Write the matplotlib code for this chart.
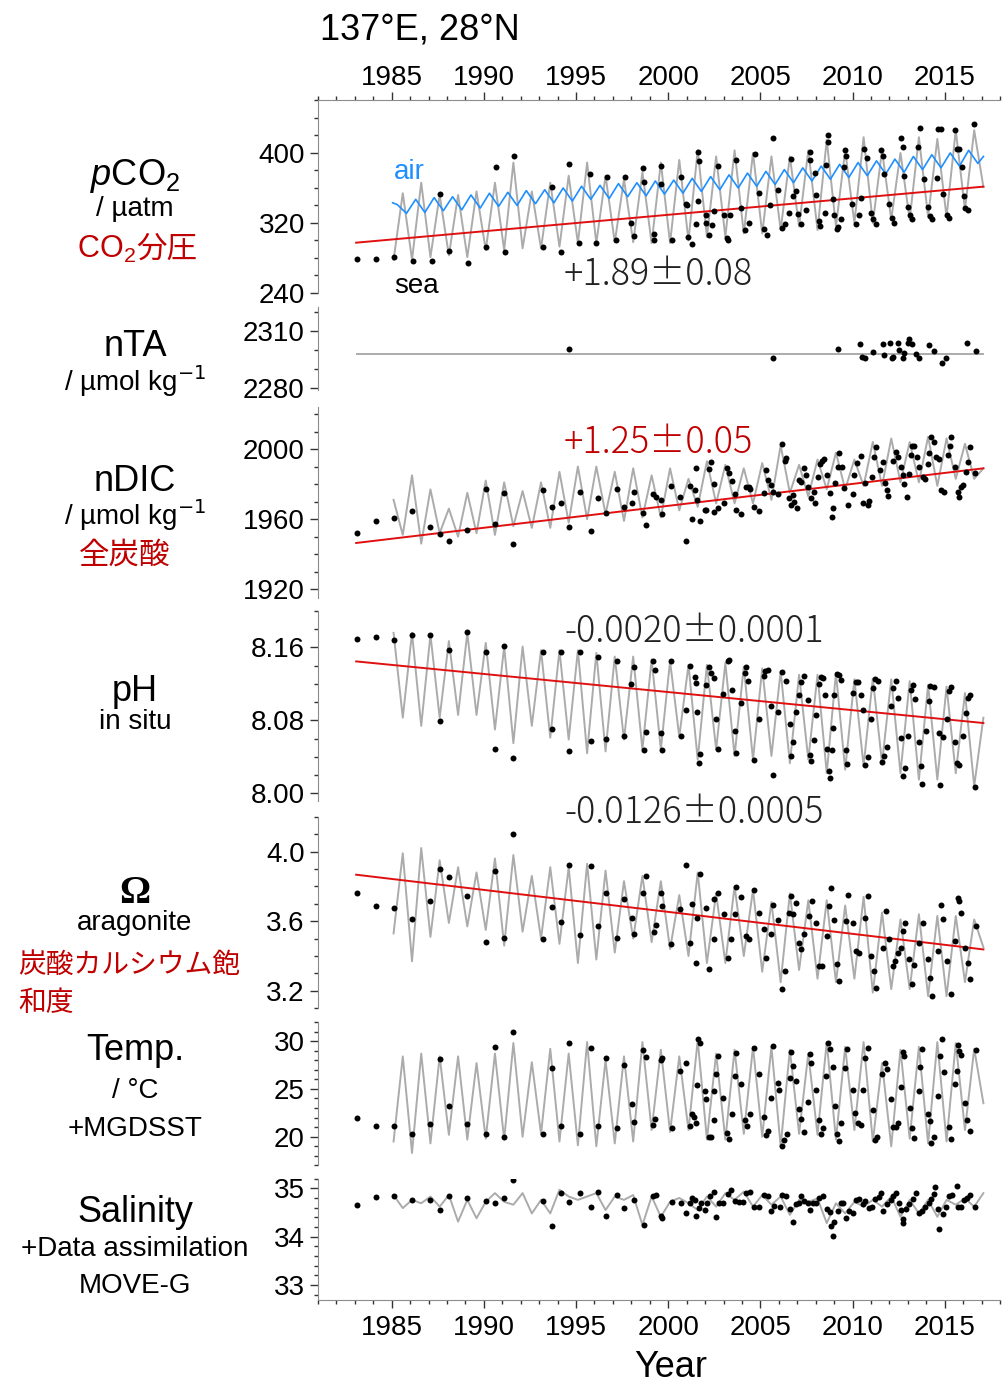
import numpy as np
import matplotlib.pyplot as plt
from matplotlib.ticker import MultipleLocator, FixedLocator, FormatStrFormatter

plt.rcParams['font.family'] = ['Liberation Sans', 'Noto Sans CJK JP']
plt.rcParams['mathtext.fontset'] = 'custom'
plt.rcParams['mathtext.rm'] = 'Liberation Sans'
plt.rcParams['mathtext.it'] = 'Liberation Sans:italic'

# ---------------- data ----------------
year_ticks = [1985, 1990, 1995, 2000, 2005, 2010, 2015]
gray_years = np.linspace(1985.1, 2017.1, 65)      # half-year steps of the monthly model line
trend_years = [1983.07, 2017.1]

# pCO2 (uatm)
pco2_ticks = [240, 320, 400]
pco2_sea = [278, 354, 278, 366, 281, 352, 283, 352, 281, 356, 289, 366, 289, 389, 291, 356,
            291, 366, 293, 374, 297, 389, 297, 374, 298, 370, 298, 378, 297, 389, 297, 392,
            300, 403, 304, 396, 304, 403, 308, 400, 308, 396, 312, 396, 316, 403, 312, 415,
            316, 403, 320, 418, 320, 403, 324, 400, 324, 418, 327, 416, 327, 426, 335, 426, 361]
air_years = np.concatenate([[1985.05], np.arange(1985.3, 2017.0, 0.5), [2017.1]])
pco2_air = [343, 341, 331, 347, 332, 349, 334, 350, 335, 352, 337, 354, 339, 355, 340, 357, 342,
            358, 343, 360, 345, 362, 347, 363, 348, 365, 350, 366, 351, 368, 353, 369, 354,
            371, 356, 373, 358, 375, 360, 377, 362, 379, 364, 381, 366, 383, 368, 385, 370,
            387, 372, 389, 374, 391, 376, 393, 378, 396, 381, 398, 383, 400, 385, 403, 388, 396]
pco2_trend = [297.5, 361.5]
pco2_dots = [(1983.13, 278.5), (1984.14, 278.5), (1985.14, 281.5), (1986.17, 277), (1987.16, 277),
             (1987.61, 353), (1988.12, 288), (1989.15, 274.6), (1990.14, 293), (1990.68, 383.6),
             (1991.14, 287), (1991.64, 396.6), (1993.18, 293), (1993.67, 360.8), (1994.17, 287),
             (1994.62, 387), (1995.16, 297.5), (1995.78, 375.6), (1996.1, 297.5), (1996.68, 372),
             (1997.18, 300.6), (1997.64, 372), (1998.0, 319.6), (1998.12, 305.5), (1998.63, 382.5),
             (1998.68, 366.5), (1999.21, 300.6), (1999.25, 307.4), (1999.63, 385), (1999.63, 364.6),
             (2000.22, 300.8), (2000.67, 373), (2000.95, 341.4), (2001.02, 341), (2001.1, 304),
             (2001.3, 296), (2001.5, 319), (2001.6, 345), (2001.64, 401.5), (2001.66, 390.8),
             (2002.03, 329), (2002.06, 319.6), (2002.2, 306), (2002.4, 318), (2002.5, 334),
             (2002.7, 385), (2003.0, 329), (2003.2, 302.5), (2003.22, 300), (2003.34, 329),
             (2003.69, 392), (2003.95, 337), (2004.17, 312), (2004.4, 320), (2004.69, 398.9),
             (2004.95, 354.6), (2005.17, 313), (2005.37, 306), (2005.5, 340), (2005.68, 416.8),
             (2005.97, 357.7), (2006.2, 314), (2006.36, 319), (2006.57, 331), (2006.66, 392.7),
             (2006.78, 351), (2006.92, 357), (2007.06, 330), (2007.19, 319), (2007.46, 335),
             (2007.67, 401.5), (2007.69, 392), (2007.96, 377.5), (2008.0, 352), (2008.16, 322),
             (2008.25, 316), (2008.52, 331), (2008.56, 386), (2008.65, 420.6), (2008.67, 413),
             (2008.95, 347), (2008.97, 329), (2009.13, 313), (2009.22, 315), (2009.4, 325),
             (2009.52, 384), (2009.61, 403.6), (2009.66, 396), (2009.97, 342), (2010.2, 319),
             (2010.35, 329), (2010.47, 349), (2010.6, 405), (2010.8, 394), (2011.0, 331),
             (2011.1, 325), (2011.25, 319), (2011.55, 403), (2011.64, 396), (2011.73, 376),
             (2012.0, 342), (2012.15, 326), (2012.27, 320), (2012.63, 416.8), (2012.72, 407),
             (2012.81, 374), (2013.0, 338), (2013.1, 329), (2013.2, 324), (2013.56, 407),
             (2013.65, 428), (2013.89, 370), (2014.07, 338), (2014.2, 328), (2014.3, 325),
             (2014.57, 371), (2014.65, 427), (2014.8, 427), (2014.92, 353), (2015.15, 329),
             (2015.25, 326), (2015.57, 426), (2015.66, 404), (2015.8, 404), (2015.94, 384),
             (2016.07, 351), (2016.12, 337), (2016.25, 335), (2016.61, 433)]

# nTA (umol/kg)
ta_ticks = [2280, 2310]
ta_line_years = [1983.1, 2017.1]
ta_line = [2298, 2298]
ta_dots = [(1994.62, 2300.2), (2005.68, 2295.5), (2009.2, 2300.4), (2010.43, 2303), (2010.52, 2296),
           (2010.68, 2295.5), (2011.1, 2298.6), (2011.64, 2303), (2011.73, 2297), (2012.03, 2303.7),
           (2012.12, 2295.6), (2012.2, 2296.2), (2012.45, 2303.5), (2012.5, 2300), (2012.76, 2295.5),
           (2012.81, 2298.4), (2012.99, 2303.5), (2013.08, 2305.5), (2013.21, 2303), (2013.44, 2297.6),
           (2013.62, 2295.5), (2014.17, 2302.4), (2014.44, 2299.3), (2014.85, 2293.2), (2015.07, 2295.5),
           (2016.21, 2303.7), (2016.7, 2299.5)]

# nDIC (umol/kg)
dic_ticks = [1920, 1960, 2000]
dic_gray = [1971, 1951, 1985, 1946, 1977, 1952, 1966, 1950, 1975, 1952, 1982, 1951, 1981, 1956,
            1976, 1955, 1981, 1955, 1987, 1958, 1990, 1960, 1990, 1963, 1987, 1959, 1989, 1961,
            1985, 1961, 1989, 1965, 1983, 1967, 1993, 1969, 1991, 1969, 1989, 1969, 1992, 1971,
            2002, 1975, 1991, 1973, 1994, 1977, 1998, 1977, 1994, 1979, 2004, 1979, 2006, 1981,
            2004, 1981, 2007, 1979, 2006, 1983, 2003, 1983, 1989]
dic_trend = [1946.4, 1989.0]
dic_dots = [(1983.13, 1952.2), (1984.14, 1959), (1985.1, 1960.4), (1986.1, 1964.7), (1987.1, 1955.6),
            (1987.6, 1951.4), (1988.1, 1947.6), (1989.1, 1954), (1990.1, 1977.1), (1990.6, 1957),
            (1991.1, 1975), (1991.6, 1945.7), (1993.2, 1976.6), (1993.7, 1967), (1994.2, 1969),
            (1994.6, 1955.3), (1995.2, 1975.6), (1995.8, 1953.3), (1996.2, 1971.8), (1996.6, 1963.6),
            (1997.2, 1977.1), (1997.6, 1967), (1998.03, 1969.5), (1998.14, 1975.6), (1998.63, 1963.6),
            (1998.81, 1956.6), (1999.17, 1974.3), (1999.35, 1972.4), (1999.62, 1971.2), (1999.64, 1962.9),
            (2000.16, 1979), (2000.65, 1972.4), (2000.98, 1947.4), (2001.16, 1978.9), (2001.3, 1959.8),
            (2001.46, 1976.6), (2001.52, 1989), (2001.57, 1970.9), (2001.7, 1959), (2001.97, 1965.1),
            (2002.06, 1965.5), (2002.2, 1988.4), (2002.3, 1992.8), (2002.48, 1980), (2002.51, 1964.2),
            (2002.69, 1966.1), (2003.0, 1969), (2003.2, 1989), (2003.29, 1986.1), (2003.45, 1981.9),
            (2003.6, 1974.3), (2003.69, 1965.1), (2003.96, 1962.9), (2004.23, 1978.1), (2004.36, 1978.5),
            (2004.45, 1977), (2004.68, 1966.7), (2004.95, 1964.8), (2005.19, 1974.7), (2005.28, 1988),
            (2005.4, 1982.3), (2005.58, 1979.4), (2005.67, 1975.6), (2005.95, 1974.3), (2006.18, 2002.7),
            (2006.31, 1993.3), (2006.4, 1994.7), (2006.54, 1971.8), (2006.67, 1968), (2006.76, 1973.7),
            (2006.85, 1969.9), (2006.98, 1966.1), (2007.12, 1982.3), (2007.21, 1981.3), (2007.34, 1989),
            (2007.45, 1985.1), (2007.57, 1978.5), (2007.75, 1971.8), (2007.93, 1975.6), (2007.99, 1969.5),
            (2008.15, 1984.2), (2008.24, 1991.4), (2008.35, 1993.3), (2008.47, 1994.1), (2008.62, 1985.1),
            (2008.75, 1974.7), (2008.87, 1961.3), (2008.96, 1966.1), (2009.07, 1980.4), (2009.2, 1989.9),
            (2009.29, 1997.5), (2009.41, 1989.9), (2009.56, 1977.5), (2009.74, 1968), (2010.01, 1974.3),
            (2010.1, 1985.1), (2010.23, 1991.8), (2010.46, 1996), (2010.55, 1969), (2010.68, 1980.4),
            (2010.82, 1968), (2010.91, 1970.5), (2011.06, 1983.8), (2011.19, 1995.6), (2011.28, 2001.3),
            (2011.51, 1988), (2011.64, 1992.8), (2011.76, 1980.4), (2011.85, 1976.6), (2011.94, 1973.1),
            (2012.18, 1993.3), (2012.36, 1998.5), (2012.45, 1995.6), (2012.63, 1989.9), (2012.72, 1985.1),
            (2012.81, 1980), (2012.96, 1972.4), (2013.08, 1985.7), (2013.17, 1996.6), (2013.21, 2001.7),
            (2013.35, 2001.7), (2013.48, 1995.6), (2013.62, 1989.9), (2013.8, 1984.2), (2013.95, 1982.7),
            (2014.08, 1991.4), (2014.17, 1997.9), (2014.26, 2007), (2014.4, 2004.2), (2014.53, 1995.2),
            (2014.67, 1994.1), (2014.8, 1976.6), (2014.98, 1975.6), (2015.2, 1996.6), (2015.29, 2001.7),
            (2015.34, 2006.7), (2015.57, 1989.9), (2015.7, 1975.6), (2015.79, 1972.4), (2015.88, 1978.1),
            (2016.01, 1979.4), (2016.15, 1987), (2016.24, 1992.8), (2016.37, 2001), (2016.66, 1986.5)]

# pH in situ
ph_ticks = [8.00, 8.08, 8.16]
ph_gray = [8.176, 8.083, 8.176, 8.074, 8.174, 8.083, 8.167, 8.086, 8.176, 8.086, 8.165, 8.070,
           8.161, 8.055, 8.161, 8.074, 8.157, 8.061, 8.157, 8.059, 8.157, 8.044, 8.154, 8.046,
           8.150, 8.059, 8.150, 8.048, 8.147, 8.048, 8.145, 8.062, 8.141, 8.037, 8.141, 8.048,
           8.143, 8.041, 8.139, 8.037, 8.137, 8.041, 8.134, 8.033, 8.130, 8.037, 8.130, 8.022,
           8.132, 8.026, 8.125, 8.030, 8.126, 8.033, 8.125, 8.022, 8.123, 8.015, 8.119, 8.015,
           8.117, 8.022, 8.110, 8.008, 8.083]
ph_trend = [8.1447, 8.0771]
ph_dots = [(1983.13, 8.1695), (1984.14, 8.171), (1985.1, 8.168), (1986.1, 8.174), (1987.1, 8.174),
           (1987.6, 8.079), (1988.1, 8.1575), (1989.1, 8.177), (1990.1, 8.1545), (1990.6, 8.049),
           (1991.1, 8.162), (1991.6, 8.0387), (1993.2, 8.1545), (1993.7, 8.0705), (1994.2, 8.1545),
           (1994.6, 8.0468), (1995.2, 8.1545), (1995.8, 8.057), (1996.2, 8.149), (1996.6, 8.0596),
           (1997.2, 8.1454), (1997.6, 8.0625), (1998.0, 8.120), (1998.14, 8.1385), (1998.68, 8.048),
           (1998.81, 8.067), (1999.17, 8.1447), (1999.31, 8.1356), (1999.59, 8.066), (1999.68, 8.047),
           (2000.16, 8.1447), (2000.67, 8.0625), (2000.98, 8.091), (2001.16, 8.140), (2001.43, 8.1275),
           (2001.52, 8.121), (2001.57, 8.0888), (2001.7, 8.0432), (2001.66, 8.033), (2002.03, 8.119),
           (2002.19, 8.139), (2002.3, 8.132), (2002.46, 8.126), (2002.6, 8.0815), (2002.69, 8.049),
           (2002.96, 8.109), (2003.24, 8.1447), (2003.3, 8.146), (2003.45, 8.1136), (2003.6, 8.068),
           (2003.69, 8.044), (2003.96, 8.099), (2004.17, 8.132), (2004.23, 8.139), (2004.32, 8.123),
           (2004.68, 8.036), (2004.92, 8.081), (2005.17, 8.129), (2005.26, 8.134), (2005.4, 8.1356),
           (2005.58, 8.0954), (2005.67, 8.0197), (2005.95, 8.0888), (2006.18, 8.1326), (2006.4, 8.123),
           (2006.58, 8.076), (2006.67, 8.0405), (2006.76, 8.056), (2006.94, 8.0888), (2007.12, 8.108),
           (2007.21, 8.1217), (2007.34, 8.129), (2007.57, 8.1027), (2007.7, 8.0425), (2007.75, 8.035),
           (2007.93, 8.058), (2008.02, 8.086), (2008.2, 8.12), (2008.3, 8.128), (2008.38, 8.127),
           (2008.51, 8.108), (2008.62, 8.049), (2008.71, 8.0242), (2008.75, 8.017), (2008.87, 8.048),
           (2008.96, 8.0717), (2009.02, 8.108), (2009.14, 8.131), (2009.25, 8.130), (2009.38, 8.1246),
           (2009.65, 8.048), (2009.69, 8.032), (2010.01, 8.110), (2010.19, 8.1217), (2010.28, 8.1217),
           (2010.46, 8.108), (2010.59, 8.0917), (2010.7, 8.0315), (2010.82, 8.04), (2011.0, 8.0815),
           (2011.13, 8.1155), (2011.24, 8.1253), (2011.37, 8.123), (2011.6, 8.034), (2011.73, 8.0405),
           (2011.85, 8.051), (2012.09, 8.0954), (2012.18, 8.1155), (2012.36, 8.1235), (2012.45, 8.1045),
           (2012.63, 8.0607), (2012.72, 8.0193), (2012.87, 8.028), (2012.99, 8.0625), (2013.17, 8.113),
           (2013.26, 8.119), (2013.41, 8.1035), (2013.62, 8.056), (2013.71, 8.0296), (2013.77, 8.0103),
           (2013.99, 8.068), (2014.13, 8.101), (2014.22, 8.118), (2014.4, 8.1166), (2014.67, 8.066),
           (2014.74, 8.0096), (2014.89, 8.0618), (2015.1, 8.0815), (2015.21, 8.112), (2015.34, 8.1166),
           (2015.57, 8.056), (2015.65, 8.033), (2015.79, 8.0315), (2015.97, 8.0625), (2016.15, 8.088),
           (2016.24, 8.1045), (2016.37, 8.108), (2016.66, 8.007)]

# Omega aragonite
om_ticks = [3.2, 3.6, 4.0]
om_gray = [3.53, 3.99, 3.37, 4.02, 3.51, 3.95, 3.59, 3.91, 3.57, 3.88, 3.55, 3.96, 3.46, 3.98,
           3.54, 3.86, 3.50, 3.91, 3.47, 3.91, 3.36, 3.93, 3.38, 3.89, 3.42, 3.83, 3.50, 3.86,
           3.48, 3.83, 3.44, 3.75, 3.40, 3.88, 3.36, 3.76, 3.36, 3.80, 3.40, 3.78, 3.31, 3.71,
           3.25, 3.76, 3.32, 3.72, 3.27, 3.72, 3.25, 3.69, 3.27, 3.74, 3.19, 3.65, 3.21, 3.61,
           3.21, 3.64, 3.17, 3.63, 3.17, 3.63, 3.25, 3.61, 3.45]
om_trend = [3.867, 3.438]
om_dots = [(1983.13, 3.762), (1984.14, 3.686), (1985.1, 3.676), (1986.1, 3.613), (1987.1, 3.718),
           (1987.6, 3.899), (1988.1, 3.851), (1989.1, 3.743), (1990.1, 3.48), (1990.6, 3.886),
           (1991.1, 3.501), (1991.6, 4.099), (1993.2, 3.495), (1993.7, 3.682), (1994.2, 3.594),
           (1994.6, 3.924), (1995.2, 3.518), (1995.8, 3.918), (1996.2, 3.571), (1996.6, 3.762),
           (1997.2, 3.505), (1997.6, 3.728), (1998.03, 3.619), (1998.14, 3.524), (1998.63, 3.762),
           (1998.81, 3.857), (1999.22, 3.537), (1999.35, 3.581), (1999.62, 3.762), (1999.68, 3.686),
           (2000.16, 3.472), (2000.65, 3.670), (2000.98, 3.924), (2001.19, 3.476), (2001.3, 3.701),
           (2001.52, 3.362), (2001.57, 3.619), (2001.7, 3.87), (2002.03, 3.676), (2002.2, 3.328),
           (2002.48, 3.495), (2002.51, 3.728), (2002.69, 3.762), (2003.0, 3.644), (2003.24, 3.39),
           (2003.41, 3.495), (2003.6, 3.644), (2003.69, 3.796), (2003.96, 3.739), (2004.23, 3.514),
           (2004.36, 3.495), (2004.68, 3.781), (2004.92, 3.648), (2005.19, 3.556), (2005.31, 3.39),
           (2005.58, 3.524), (2005.67, 3.695), (2005.95, 3.606), (2006.18, 3.213), (2006.31, 3.314),
           (2006.54, 3.648), (2006.67, 3.743), (2006.76, 3.644), (2006.94, 3.705), (2007.08, 3.476),
           (2007.21, 3.442), (2007.34, 3.524), (2007.63, 3.629), (2007.79, 3.714), (2008.02, 3.587),
           (2008.2, 3.343), (2008.35, 3.343), (2008.62, 3.514), (2008.71, 3.690), (2008.84, 3.79),
           (2009.02, 3.606), (2009.14, 3.352), (2009.29, 3.257), (2009.65, 3.6), (2009.74, 3.752),
           (2010.05, 3.590), (2010.19, 3.429), (2010.37, 3.419), (2010.68, 3.619), (2010.82, 3.743),
           (2011.0, 3.4), (2011.19, 3.314), (2011.28, 3.219), (2011.64, 3.448), (2011.82, 3.657),
           (2011.96, 3.495), (2012.18, 3.343), (2012.32, 3.371), (2012.45, 3.419), (2012.63, 3.448),
           (2012.72, 3.543), (2012.87, 3.59), (2013.05, 3.381), (2013.21, 3.238), (2013.35, 3.347),
           (2013.62, 3.476), (2013.8, 3.587), (2014.08, 3.381), (2014.22, 3.276), (2014.31, 3.171),
           (2014.62, 3.429), (2014.8, 3.695), (2014.89, 3.610), (2015.12, 3.371), (2015.34, 3.181),
           (2015.57, 3.486), (2015.7, 3.733), (2015.79, 3.714), (2015.88, 3.648), (2016.12, 3.448),
           (2016.24, 3.362), (2016.37, 3.267), (2016.7, 3.571)]

# Temperature (degC)
temp_ticks = [20, 25, 30]
temp_gray = [19.5, 28.4, 18.3, 28.7, 19.3, 28.4, 20.2, 28.4, 19.7, 27.7, 19.8, 28.7, 19.7, 29.8,
             20.0, 27.8, 20.3, 29.2, 19.5, 28.7, 19.1, 29.9, 19.0, 28.0, 19.3, 28.4, 19.5, 29.9,
             20.7, 29.1, 20.5, 28.4, 20.7, 30.1, 19.7, 28.7, 19.7, 29.1, 20.3, 29.4, 20.0, 29.4,
             19.0, 29.1, 20.3, 28.7, 20.2, 29.9, 19.7, 29.4, 20.7, 29.9, 19.5, 27.7, 19.0, 29.1,
             19.8, 29.4, 19.3, 29.9, 19.5, 29.8, 20.7, 29.2, 23.5]
temp_dots = [(1983.13, 22.0), (1984.14, 21.1), (1985.1, 21.1), (1986.1, 20.3), (1987.1, 21.3),
             (1987.6, 28.1), (1988.1, 23.2), (1989.1, 21.3), (1990.1, 20.3), (1990.6, 29.4),
             (1991.1, 20.0), (1991.6, 31.0), (1993.2, 20.3), (1993.7, 27.2), (1994.2, 21.1),
             (1994.6, 29.8), (1995.2, 20.3), (1995.8, 29.3), (1996.2, 21.1), (1996.6, 28.2),
             (1997.2, 20.9), (1997.6, 27.5), (1998.03, 23.4), (1998.14, 21.5), (1998.63, 29.1),
             (1998.81, 28.3), (1999.17, 21.2), (1999.31, 21.9), (1999.59, 28.0), (1999.68, 28.2),
             (2000.22, 20.9), (2000.65, 26.9), (2000.94, 27.7), (2001.16, 21.1), (2001.3, 22.4),
             (2001.39, 22.1), (2001.52, 21.4), (2001.57, 25.4), (2001.64, 30.2), (2001.7, 29.8),
             (2001.97, 24.8), (2002.06, 23.9), (2002.2, 20.0), (2002.3, 20.0), (2002.48, 21.7),
             (2002.51, 24.8), (2002.6, 26.6), (2002.69, 28.4), (2002.96, 24.1), (2003.2, 20.4),
             (2003.29, 19.8), (2003.45, 22.4), (2003.6, 26.3), (2003.69, 28.8), (2003.96, 25.5),
             (2004.17, 21.8), (2004.27, 21.1), (2004.45, 22.4), (2004.68, 29.3), (2004.95, 26.6),
             (2005.17, 22.1), (2005.28, 20.2), (2005.44, 20.6), (2005.58, 24.0), (2005.67, 29.5),
             (2005.95, 25.6), (2006.0, 24.9), (2006.18, 19.0), (2006.27, 19.7), (2006.43, 20.3),
             (2006.58, 26.1), (2006.67, 28.9), (2006.76, 27.4), (2006.94, 25.8), (2007.08, 22.9),
             (2007.21, 21.9), (2007.34, 20.5), (2007.57, 23.6), (2007.7, 28.7), (2007.75, 27.7),
             (2008.02, 24.9), (2008.17, 21.7), (2008.3, 20.3), (2008.42, 20.9), (2008.57, 26.4),
             (2008.69, 29.8), (2008.78, 29.2), (2008.93, 27.3), (2009.05, 23.2), (2009.14, 20.3),
             (2009.25, 19.6), (2009.38, 21.4), (2009.6, 27.2), (2009.69, 29.2), (2010.01, 24.9),
             (2010.14, 22.5), (2010.28, 21.4), (2010.46, 21.2), (2010.55, 24.9), (2010.68, 28.2),
             (2010.82, 29.3), (2011.09, 22.8), (2011.24, 19.7), (2011.33, 20.0), (2011.6, 26.6),
             (2011.76, 27.7), (2011.85, 27.1), (2012.09, 23.9), (2012.21, 21.0), (2012.36, 21.0),
             (2012.49, 21.4), (2012.63, 25.2), (2012.72, 28.9), (2012.81, 28.4), (2013.12, 23.0),
             (2013.21, 20.9), (2013.32, 19.9), (2013.62, 24.8), (2013.68, 27.3), (2013.75, 29.2),
             (2014.08, 22.4), (2014.2, 21.6), (2014.26, 19.3), (2014.44, 20.0), (2014.62, 24.3),
             (2014.74, 28.4), (2014.83, 30.2), (2014.94, 26.8), (2015.21, 21.0), (2015.34, 19.8),
             (2015.57, 25.5), (2015.65, 26.9), (2015.7, 29.6), (2015.79, 29.0), (2015.88, 28.5),
             (2016.1, 23.5), (2016.21, 21.8), (2016.37, 20.6), (2016.7, 29.1)]

# Salinity
sal_ticks = [33, 34, 35]
sal_gray = [34.86, 34.59, 34.76, 34.69, 34.83, 34.62, 34.86, 34.31, 34.76, 34.38, 34.72, 34.90,
            34.72, 34.66, 34.90, 34.48, 34.76, 34.48, 34.97, 34.83, 34.76, 34.83, 34.90, 34.55,
            34.83, 34.76, 34.86, 34.24, 34.83, 34.41, 34.72, 34.80, 34.69, 34.55, 34.83, 34.62,
            34.90, 34.76, 34.93, 34.62, 34.86, 34.66, 34.83, 34.45, 34.76, 34.72, 34.79, 34.28,
            34.69, 34.48, 34.72, 34.62, 34.76, 34.62, 34.83, 34.41, 34.76, 34.48, 34.76, 34.41,
            34.76, 34.66, 34.79, 34.62, 34.90]
sal_dots = [(1983.13, 34.66), (1984.14, 34.81), (1985.1, 34.83), (1986.1, 34.76), (1987.1, 34.76),
            (1987.6, 34.55), (1988.1, 34.85), (1989.1, 34.79), (1990.1, 34.74), (1990.6, 34.69),
            (1991.1, 34.79), (1991.6, 35.17), (1993.2, 34.74), (1993.7, 34.21), (1994.2, 34.9),
            (1994.6, 34.72), (1995.2, 34.91), (1995.8, 34.62), (1996.2, 34.92), (1996.6, 34.43),
            (1997.2, 34.86), (1997.6, 34.59), (1998.14, 34.76), (1998.68, 34.24), (1999.17, 34.83),
            (1999.35, 34.86), (1999.59, 34.43), (1999.68, 34.38), (2000.22, 34.72), (2000.67, 34.7),
            (2000.98, 34.48), (2001.16, 34.69), (2001.3, 34.79), (2001.48, 34.76), (2001.52, 34.43),
            (2001.66, 34.59), (2001.79, 34.69), (2001.97, 34.55), (2002.1, 34.69), (2002.24, 34.83),
            (2002.48, 34.93), (2002.6, 34.41), (2002.78, 34.7), (2002.99, 34.7), (2003.24, 34.88),
            (2003.42, 34.97), (2003.65, 34.74), (2003.83, 34.72), (2004.08, 34.72), (2004.23, 34.91),
            (2004.45, 34.93), (2004.68, 34.62), (2004.95, 34.62), (2005.22, 34.86), (2005.4, 34.83),
            (2005.58, 34.52), (2005.76, 34.63), (2006.04, 34.62), (2006.18, 34.86), (2006.4, 34.83),
            (2006.58, 34.57), (2006.76, 34.31), (2006.94, 34.68), (2007.08, 34.7), (2007.21, 34.83),
            (2007.39, 34.74), (2007.57, 34.7), (2007.7, 34.55), (2007.88, 34.7), (2008.02, 34.7),
            (2008.2, 34.79), (2008.42, 34.83), (2008.62, 34.57), (2008.75, 34.5), (2008.84, 34.22),
            (2008.93, 34.01), (2009.02, 34.31), (2009.2, 34.52), (2009.38, 34.69), (2009.5, 34.7),
            (2009.65, 34.38), (2009.8, 34.52), (2010.01, 34.48), (2010.19, 34.76), (2010.37, 34.77),
            (2010.55, 34.68), (2010.7, 34.74), (2010.88, 34.59), (2011.06, 34.62), (2011.24, 34.77),
            (2011.42, 34.81), (2011.55, 34.91), (2011.64, 34.54), (2011.85, 34.68), (2012.09, 34.76),
            (2012.21, 34.83), (2012.36, 34.91), (2012.5, 34.69), (2012.63, 34.55), (2012.72, 34.36),
            (2012.76, 34.28), (2012.9, 34.57), (2013.08, 34.68), (2013.26, 34.77), (2013.45, 34.91),
            (2013.62, 34.48), (2013.77, 34.52), (2013.95, 34.61), (2014.13, 34.69), (2014.26, 34.77),
            (2014.4, 34.88), (2014.49, 35.02), (2014.62, 34.57), (2014.71, 34.15), (2014.89, 34.47),
            (2015.07, 34.62), (2015.21, 34.84), (2015.39, 34.86), (2015.65, 35.05), (2015.7, 34.62),
            (2015.88, 34.62), (2016.06, 34.76), (2016.21, 34.79), (2016.37, 34.86), (2016.66, 34.61)]

# ---------------- figure ----------------
W, H = 1002, 1384
fig = plt.figure(figsize=(W / 100, H / 100), dpi=100)

SPINE = '#8c8c8c'
GRAY = '#ababab'
RED = '#e01010'
TXTRED = '#c00000'
BLUE = '#1e8fff'


def ftext(x, y, s, **kw):
    return fig.text(x / W, 1 - y / H, s, **kw)


def panel(top, bottom, ylim, ticks, minor, fmt):
    ax = fig.add_axes([318 / W, 1 - bottom / H, 682 / W, (bottom - top) / H])
    ax.set_xlim(1981, 2018)
    ax.set_ylim(*ylim)
    for s in ['top', 'right', 'bottom']:
        ax.spines[s].set_visible(False)
    ax.spines['left'].set_color(SPINE)
    ax.yaxis.set_major_locator(FixedLocator(ticks))
    ax.yaxis.set_minor_locator(MultipleLocator(minor))
    ax.yaxis.set_major_formatter(FormatStrFormatter(fmt))
    ax.tick_params(axis='y', which='major', length=5.5, width=1, labelsize=20, pad=4, color='#333333')
    ax.tick_params(axis='y', which='minor', length=3, width=1, color='#333333')
    ax.tick_params(axis='x', which='both', bottom=False, top=False, labelbottom=False, labeltop=False)
    ax.patch.set_alpha(0)
    return ax


def xaxis(ax, where):
    ax.spines[where].set_visible(True)
    ax.spines[where].set_color(SPINE)
    ax.xaxis.set_major_locator(FixedLocator(year_ticks))
    ax.xaxis.set_minor_locator(MultipleLocator(1))
    top = where == 'top'
    ax.tick_params(axis='x', which='both', top=top, bottom=not top,
                   labeltop=top, labelbottom=not top, color='#333333')
    ax.tick_params(axis='x', which='major', length=5.5, width=1, labelsize=20,
                   pad=1 if top else 6)
    ax.tick_params(axis='x', which='minor', length=3, width=1)


def draw(ax, gray, dots, trend=None, gray_x=gray_years):
    ax.plot(gray_x, gray, color=GRAY, lw=1.4, zorder=1)
    if trend is not None:
        ax.plot(trend_years, trend, color=RED, lw=1.4, zorder=2)
    dx, dy = zip(*dots)
    ax.plot(dx, dy, 'o', color='black', ms=4.3, mec='none', zorder=3)


ax1 = panel(100, 293, (240, 460.5), pco2_ticks, 20, '%d')
xaxis(ax1, 'top')
draw(ax1, pco2_sea, pco2_dots, pco2_trend)
ax1.plot(air_years, pco2_air, color=BLUE, lw=1.2, zorder=2)

ax2 = panel(307, 390, (2278.8, 2322.5), ta_ticks, 10, '%d')
draw(ax2, ta_line, ta_dots, gray_x=ta_line_years)

ax3 = panel(407, 598, (1915, 2024), dic_ticks, 10, '%d')
draw(ax3, dic_gray, dic_dots, dic_trend)

ax4 = panel(611, 801.5, (7.991, 8.20), ph_ticks, 0.02, '%.2f')
draw(ax4, ph_gray, ph_dots, ph_trend)

ax5 = panel(816.7, 1008.3, (3.1, 4.2), om_ticks, 0.1, '%.1f')
draw(ax5, om_gray, om_dots, om_trend)

ax6 = panel(1022, 1165.4, (17, 32), temp_ticks, 1, '%d')
draw(ax6, temp_gray, temp_dots)

ax7 = panel(1178.6, 1299.5, (32.7, 35.2), sal_ticks, 0.2, '%d')
xaxis(ax7, 'bottom')
draw(ax7, sal_gray, sal_dots)

# ---------------- texts ----------------
ftext(320, 39, '137°E, 28°N', fontsize=26, ha='left', va='baseline')
ftext(671, 1377, 'Year', fontsize=26, ha='center', va='baseline')

ftext(394, 179, 'air', fontsize=20, color=BLUE, ha='left', va='baseline')
ftext(394, 293, 'sea', fontsize=20, color='black', ha='left', va='baseline')

slope_kw = dict(fontsize=26, ha='left', va='baseline', family=['Noto Sans CJK JP'], fontweight='light')
ftext(564, 285, '+1.89±0.08', color='#222222', **slope_kw)
ftext(564, 453, '+1.25±0.05', color=TXTRED, **slope_kw)
ftext(564, 642, '-0.0020±0.0001', color='#222222', **slope_kw)
ftext(564, 823, '-0.0126±0.0005', color='#222222', **slope_kw)

big = dict(fontsize=26, ha='center', va='baseline')
small = dict(fontsize=20, ha='center', va='baseline')
jp = dict(fontsize=22, color=TXTRED, va='baseline', family=['Noto Sans CJK JP'])

ftext(135, 185, r'$\mathit{p}\mathrm{CO}_2$', **big)
ftext(135, 216, '/ µatm', **small)
ftext(136, 258, r'CO$_2$', fontsize=22, color=TXTRED, ha='right', va='baseline')
ftext(136, 258, '分圧', ha='left', **jp)

ftext(135, 356, 'nTA', **big)
ftext(135, 391, r'/ µmol kg$^{\mathsf{-1}}$', **small)

ftext(135, 491, 'nDIC', **big)
ftext(135, 525, r'/ µmol kg$^{\mathsf{-1}}$', **small)
ftext(125, 564, '全炭酸', ha='center', **jp)

ftext(135, 701, 'pH', **big)
ftext(135, 729, 'in situ', **small)

ftext(135, 903, 'Ω', fontsize=28, ha='center', va='baseline', family=['Liberation Serif'],
      fontweight='bold')
ftext(135, 930, 'aragonite', **small)
jp_small = dict(jp, fontsize=20)
ftext(18, 973, '炭酸カルシウム飽', ha='left', **jp_small)
ftext(18, 1011, '和度', ha='left', **jp_small)

ftext(135, 1060, 'Temp.', **big)
ftext(135, 1098, '/ °C', **small)
ftext(135, 1136, '+MGDSST', **small)

ftext(135, 1222, 'Salinity', **big)
ftext(135, 1256, '+Data assimilation', **small)
ftext(135, 1293, 'MOVE-G', **small)

fig.savefig('out.png', dpi=100)
